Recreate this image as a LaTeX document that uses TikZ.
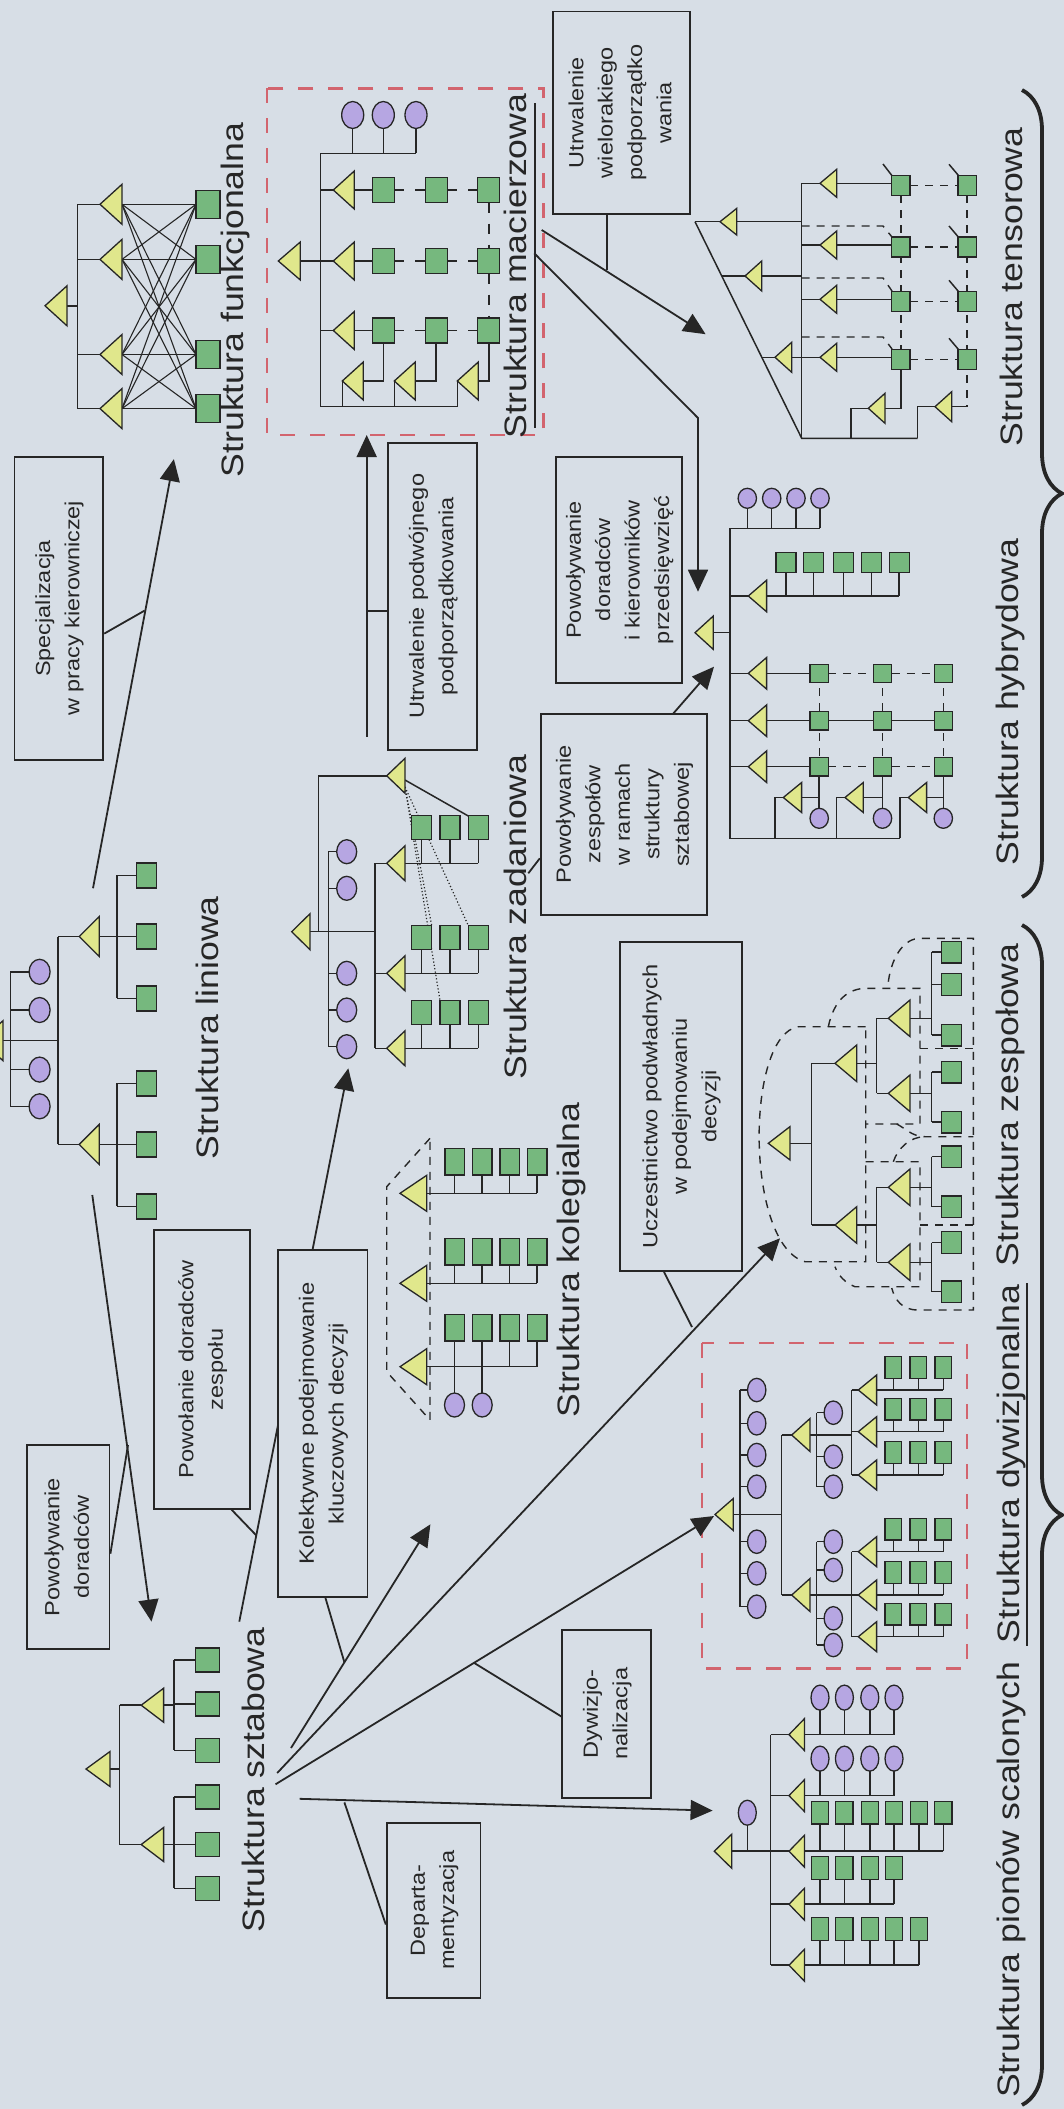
\documentclass[tikz,border=0pt]{standalone}
\usepackage{graphicx}
\usepackage{fontspec}
\setmainfont{Liberation Sans}[FakeStretch=1.15]
\usetikzlibrary{arrows.meta,decorations.pathreplacing,calc}
\definecolor{bg}{RGB}{215,222,230}
\definecolor{ink}{RGB}{38,38,38}
\definecolor{trifill}{RGB}{224,231,140}
\definecolor{sqfill}{RGB}{118,184,126}
\definecolor{ovfill}{RGB}{182,166,226}
\definecolor{redd}{RGB}{210,100,110}
\tikzset{
  ln/.style={draw=ink, line width=1.5pt},
  trist/.style={draw=ink, line width=1.3pt, fill=trifill, line join=miter},
  sqst/.style={draw=ink, line width=1.3pt, fill=sqfill},
  ovst/.style={draw=ink, line width=1.3pt, fill=ovfill},
  dsh/.style={draw=ink, line width=1.4pt, dash pattern=on 8pt off 7pt},
  mdsh/.style={draw=ink, line width=1.4pt, dash pattern=on 10pt off 11pt},
  dotl/.style={draw=ink, line width=1.2pt, dash pattern=on 1.2pt off 2.2pt},
  lbox/.style={draw=ink, line width=1.9pt, fill=bg, rotate=90, inner sep=0pt, text=ink},
  ttl/.style={rotate=90, inner sep=0pt, font=\fontsize{31}{35}\selectfont, text=ink},
  arr/.style={draw=ink, line width=1.8pt, -{Triangle[length=22pt,width=20pt]}},
  con/.style={draw=ink, line width=1.8pt},
  reddash/.style={draw=redd, line width=2.4pt, dash pattern=on 15pt off 15pt},
  brc/.style={draw=ink, line width=3.8pt, decorate, decoration={brace, amplitude=40pt}},
}
\newcommand\tri[4]{\draw[trist] (#1,#2) -- ++(#3,-#4) -- ++(0,{2*#4}) -- cycle;}
\newcommand\sq[4]{\draw[sqst] ({#1-#3/2},{#2-#4/2}) rectangle ++(#3,#4);}
\newcommand\ov[4]{\draw[ovst] (#1,#2) ellipse [x radius=#3, y radius=#4];}
\newcommand\bx[2]{\resizebox{#1pt}{!}{\fontsize{20.9}{30}\selectfont\begin{tabular}{@{}c@{}}#2\end{tabular}}}
\begin{document}
\begin{tikzpicture}[x=1pt,y=-1pt]
\path[use as bounding box, fill=bg] (0,0) rectangle (1064,2109);
\clip (0,0) rectangle (1064,2109);

% ================= FUNKCJONALNA
\draw[ln] (67,305.8) -- (77.5,305.8);
\draw[ln] (77.5,204.3) -- (77.5,408.6);
\foreach \qy in {204.3,259.4,354.5,408.6}{
  \draw[ln] (77.5,\qy) -- (100,\qy);
  \foreach \qz in {204.3,259.4,354.5,408.6}{\draw[ln, line width=1.1pt] (122,\qy) -- (196,\qz);}
}
\foreach \qy in {204.3,259.4,354.5,408.6}{\tri{100}{\qy}{22}{20} \sq{208}{\qy}{24}{28}}
\tri{45}{305.8}{22}{20}
\node[ttl] (tfunk) at (235,300) {Struktura funkcjonalna};

% ================= MACIERZOWA
\draw[reddash] (266.7,88.3) rectangle (543.3,435);
\draw[ln] (300,261) -- (320.7,261);
\draw[ln] (320.7,153.3) -- (320.7,406.7) -- (457.3,406.7);
\draw[ln] (320.7,153.3) -- (416,153.3);
\foreach \qx in {352.7,383.3,416}{\draw[ln] (\qx,128.5) -- (\qx,153.3); \ov{\qx}{115}{11}{13.5}}
\draw[mdsh] (488.8,202.5) -- (488.8,248.5);
\draw[mdsh] (488.8,273.5) -- (488.8,318);
\foreach \qy in {190,261,330.5}{
  \draw[ln] (320.7,\qy) -- (333.3,\qy);
  \draw[ln] (354.3,\qy) -- (372.3,\qy);
  \draw[mdsh] (394.3,\qy) -- (425.2,\qy);
  \draw[mdsh] (447.3,\qy) -- (477.8,\qy);
  \tri{333.3}{\qy}{21}{19}
  \foreach \qx in {383.3,436.2,488.8}{\sq{\qx}{\qy}{22}{25}}
}
\foreach \qa/\qc in {342.3/383.3,394.3/436.2,457.3/488.8}{
  \draw[ln] (\qa,406.7) -- (\qa,381);
  \draw[ln] ({\qa+21},381) -- (\qc,381) -- (\qc,343);
  \tri{\qa}{381}{21}{19}
}
\tri{278.3}{261}{22}{19}
\node[ttl] (tmac) at (515,266) {Struktura macierzowa};
\draw[ln] (535,103) -- (535,428);

% ================= LINIOWA
\draw[ln] (3,1040.7) -- (57.9,1040.7);
\draw[ln] (10.3,971.8) -- (10.3,1106.3);
\foreach \qy in {971.8,1010,1069.6,1106.3}{\draw[ln] (10.3,\qy) -- (29.1,\qy); \ov{39.6}{\qy}{10.5}{12.5}}
\tri{-19}{1040.7}{22}{20}
\draw[ln] (57.9,936.5) -- (57.9,1144.4);
\draw[ln] (117.1,875.4) -- (117.1,998.4);
\draw[ln] (117.1,1083.4) -- (117.1,1206.4);
\foreach \qy in {936.5,1144.4}{\draw[ln] (57.9,\qy) -- (79.2,\qy); \draw[ln] (99.2,\qy) -- (117.1,\qy); \tri{79.2}{\qy}{20}{20}}
\foreach \qy in {875.4,936.5,998.4,1083.4,1144.4,1206.4}{\draw[ln] (117.1,\qy) -- (136.7,\qy); \sq{146.7}{\qy}{20}{25}}
\node[ttl] (tlin) at (207.5,1028) {Struktura liniowa};

% ================= SZTABOWA
\draw[ln] (110,1769) -- (119.5,1769);
\draw[ln] (119.5,1705.2) -- (119.5,1844.5);
\draw[ln] (174,1660) -- (174,1750.4);
\draw[ln] (174,1797) -- (174,1888.3);
\foreach \qy in {1705.2,1844.5}{\draw[ln] (119.5,\qy) -- (141.2,\qy); \draw[ln] (163.6,\qy) -- (174,\qy); \tri{141.2}{\qy}{22.4}{17}}
\foreach \qy in {1660,1703.9,1750.4,1797,1844.5,1888.3}{\draw[ln] (174,\qy) -- (195.5,\qy); \sq{207.5}{\qy}{24}{24}}
\tri{86}{1769}{24}{17.5}
\node[ttl] (tszt) at (253,1780) {Struktura sztabowa};

% ================= ZADANIOWA
\draw[ln] (310,931.7) -- (375,931.7);
\draw[ln] (318.3,931.7) -- (318.3,775.8) -- (386.7,775.8);
\draw[ln] (328.3,851.7) -- (328.3,1046.7);
\foreach \qy in {851.7,888.3,973.3,1010,1046.7}{\draw[ln] (328.3,\qy) -- (336.7,\qy); \ov{346.7}{\qy}{10}{12}}
\draw[ln] (375,863.3) -- (375,1048.3);
\draw[ln] (405,780) -- (468.3,816);
\draw[dotl] (405,787) -- (440,1000.5);
\draw[dotl] (405,787) -- (431.7,925.5);
\draw[dotl] (405,787) -- (468.3,925.5);
\foreach \qy in {863.3,973.3,1048.3}{
  \draw[ln] (375,\qy) -- (386.7,\qy);
  \draw[ln] (405,\qy) -- (478.3,\qy);
  \foreach \qx in {421.7,450,478.3}{\draw[ln] (\qx,\qy) -- (\qx,{\qy-23.5}); \sq{\qx}{\qy-35.5}{20}{24}}
  \tri{386.7}{\qy}{18.3}{17.5}
}
\tri{386.7}{775.8}{18.3}{17.5}
\tri{291.7}{931.7}{18.3}{18}
\node[ttl] (tzad) at (515,917) {Struktura zadaniowa};

% ================= KOLEGIALNA
\draw[dsh] (430,1138.3) -- (386.7,1186.7) -- (386.7,1371.7) -- (430,1420) -- cycle;
\foreach \qy/\qr in {1193.3/1161.7,1283.3/1251.7,1366.7/1327.7}{
  \draw[ln] (426.7,\qy) -- (537.2,\qy);
  \foreach \qx in {454.5,482.2,509.7,537.2}{\draw[ln] (\qx,\qy) -- (\qx,\qr); \sq{\qx}{\qr}{19.3}{26.7}}
  \tri{400}{\qy}{26.7}{18}
}
\foreach \qx in {454.5,482.2}{\draw[ln] (\qx,1366.7) -- (\qx,1393); \ov{\qx}{1405}{10}{12}}
\node[ttl] (tkol) at (571,1260) {Struktura kolegialna};

% ================= HYBRYDOWA
\draw[ln] (713.3,632.7) -- (730,632.7);
\draw[ln] (730,528.3) -- (730,838.3) -- (900,838.3);
\draw[ln] (730,528.3) -- (820,528.3);
\foreach \qx in {747.3,771.7,796,820}{\draw[ln] (\qx,508.3) -- (\qx,528.3); \ov{\qx}{498.3}{9.2}{10}}
\draw[ln] (730,596) -- (748.3,596);
\draw[ln] (766.7,596) -- (899.2,596);
\foreach \qx in {786,813.3,843.3,871.7,899.2}{\draw[ln] (\qx,596) -- (\qx,572.7); \sq{\qx}{562.7}{20}{20}}
\tri{748.3}{596}{18.3}{15.8}
\foreach \qy in {673.3,720.7,766.7}{
  \draw[ln] (730,\qy) -- (748.3,\qy);
  \draw[ln] (766.7,\qy) -- (810,\qy);
  \tri{748.3}{\qy}{18.3}{15.8}
}
\draw[dsh] (828.3,673.3) -- (873.3,673.3);
\draw[dsh] (891.7,673.3) -- (934.2,673.3);
\draw[ln] (828.3,720.7) -- (934.2,720.7);
\draw[dsh] (828.3,766.7) -- (873.3,766.7);
\draw[dsh] (891.7,766.7) -- (934.2,766.7);
\foreach \qx in {819.2,882.5,943.3}{
  \draw[dsh] (\qx,673.3) -- (\qx,766.7);
  \draw[ln] (\qx,766.7) -- (\qx,808.3);
  \foreach \qy in {673.3,720.7,766.7}{\sq{\qx}{\qy}{18.3}{18.3}}
  \ov{\qx}{818.3}{9.2}{10}
}
\foreach \qa/\qc in {783.3/819.2,845/882.5,908.3/943.3}{
  \draw[ln] ({\qa-8.3},838.3) -- ({\qa-8.3},797.5) -- (\qa,797.5);
  \draw[ln] ({\qa+18.3},797.5) -- (\qc,797.5);
  \tri{\qa}{797.5}{18.3}{15}
}
\tri{695}{632.7}{18.3}{16.7}
\node[ttl] (thyb) at (1010,702) {Struktura hybrydowa};

% ================= TENSOROWA
\draw[ln] (695,221.7) -- (801.7,438.3) -- (917.7,438.3);
\draw[ln] (801.7,183.3) -- (801.7,438.3);
\draw[ln] (695,221.7) -- (720,221.7);
\draw[ln] (736.7,221.7) -- (801.7,221.7);
\draw[dsh] (801.7,226) -- (883,226) -- (892,237);
\draw[ln] (721.7,276) -- (745,276);
\draw[ln] (761.7,276) -- (801.7,276);
\draw[dsh] (801.7,278) -- (883,278) -- (892,291);
\draw[dsh] (801.7,337) -- (883,337) -- (892,349);
\draw[ln] (761.8,357.3) -- (775,357.3);
\draw[ln] (791.7,357.3) -- (820,357.3);
\draw[dsh] (900.8,195) -- (900.8,349);
\draw[dsh] (967,195) -- (967,406.7);
\foreach \qy in {183.3,245,299.3,357.3}{
  \draw[ln] (801.7,\qy) -- (820,\qy);
  \draw[ln] (836.7,\qy) -- (891.7,\qy);
  \draw[dsh] (910,{\qy+2}) -- (958,{\qy+2});
  \draw[ln] (949,{\qy-19}) -- (960,{\qy-6});
}
\draw[ln] (883,164) -- (893,177);
\draw[ln] (851,438.3) -- (851,408.3) -- (868.3,408.3);
\draw[ln] (885,408.3) -- (900.8,408.3) -- (900.8,367);
\draw[ln] (917.7,438.3) -- (917.7,406.7) -- (935,406.7);
\draw[ln] (951.7,406.7) -- (967,406.7);
\foreach \qy in {183.3,245,299.3,357.3}{\tri{820}{\qy}{16.7}{14} \sq{900.8}{\qy+2}{18.3}{20} \sq{967}{\qy+2}{18.3}{20}}
\tri{720}{221.7}{16.7}{13.3}
\tri{745}{276}{16.7}{15}
\tri{775}{357.3}{16.7}{15}
\tri{868.3}{408.3}{16.7}{15}
\tri{935}{406.7}{16.7}{15}
\node[ttl] (tten) at (1011,287) {Struktura tensorowa};

% ================= ZESPOLOWA
\draw[dsh] (865.7,1026.7) -- (798.3,1026.7) .. controls (745,1035) and (745,1245) .. (805,1261.7) -- (865.7,1261.7) -- cycle;
\draw[dsh] (828.3,1026.7) .. controls (834,1000) and (848,988.3) .. (866.7,988.3) -- (920,988.3) -- (920,1124) -- (865.7,1124);
\draw[dsh] (888.3,981.7) .. controls (892,955) and (905,938.3) .. (920,938.3) -- (973.3,938.3) -- (973.3,1310) -- (918,1310) .. controls (902,1310) and (895,1300) .. (891.7,1288);
\draw[dsh] (920,1048.3) -- (973.3,1048.3);
\draw[dsh] (896.7,1124) .. controls (905,1128) and (912,1136.7) .. (925,1136.7) -- (973.3,1136.7);
\draw[dsh] (893.3,1161.7) .. controls (898,1148) and (910,1136.7) .. (925,1136.7);
\draw[dsh] (865.7,1161.7) -- (920,1161.7) -- (920,1286.7) -- (855,1286.7) .. controls (845,1283) and (838,1275) .. (835,1266.7);
\draw[dsh] (920,1225) -- (973.3,1225);
\draw[ln] (790,1143.3) -- (811.7,1143.3);
\draw[ln] (811.7,1063.3) -- (811.7,1225);
\foreach \qy in {1063.3,1225}{\draw[ln] (811.7,\qy) -- (835,\qy); \draw[ln] (856.7,\qy) -- (876.7,\qy);}
\draw[ln] (876.7,1018.3) -- (876.7,1093.3);
\draw[ln] (876.7,1187.3) -- (876.7,1262.3);
\foreach \qy in {1018.3,1093.3,1187.3,1262.3}{\draw[ln] (876.7,\qy) -- (888.3,\qy); \draw[ln] (910,\qy) -- (931.7,\qy);}
\draw[ln] (931.7,952) -- (931.7,1035);
\draw[ln] (931.7,1072) -- (931.7,1122);
\draw[ln] (931.7,1156.7) -- (931.7,1206.7);
\draw[ln] (931.7,1242.5) -- (931.7,1291.7);
\foreach \qy in {952,984.5,1035,1072,1122,1156.7,1206.7,1242.5,1291.7}{\draw[ln] (931.7,\qy) -- (941.7,\qy); \sq{951.7}{\qy}{20}{21.7}}
\foreach \qy in {1018.3,1093.3,1187.3,1262.3}{\tri{888.3}{\qy}{21.7}{18.3}}
\foreach \qy in {1063.3,1225}{\tri{835}{\qy}{21.7}{18.3}}
\tri{768.3}{1143.3}{21.7}{16.7}
\node[ttl] (tzes) at (1010,1105) {Struktura zespołowa};

% ================= DYWIZJONALNA
\draw[reddash] (701.7,1342.7) rectangle (967,1668.3);
\draw[ln] (733.3,1514.5) -- (781.7,1514.5);
\draw[ln] (740,1390) -- (740,1606.7);
\foreach \qy in {1390,1423.3,1455,1486.7,1541.7,1573.3,1606.7}{\draw[ln] (740,\qy) -- (747.5,\qy); \ov{756.7}{\qy}{9.2}{11.7}}
\draw[ln] (781.7,1435) -- (781.7,1595);
\foreach \qy in {1435,1595}{\draw[ln] (781.7,\qy) -- (791.7,\qy); \draw[ln] (810,\qy) -- (851.7,\qy);}
\draw[ln] (816.7,1412.7) -- (816.7,1486.7);
\foreach \qy in {1412.7,1456.7,1486.7}{\draw[ln] (816.7,\qy) -- (824,\qy); \ov{833.3}{\qy}{9.2}{11.7}}
\draw[ln] (816.7,1541.7) -- (816.7,1645);
\foreach \qy in {1541.7,1570,1618.3,1645}{\draw[ln] (816.7,\qy) -- (824,\qy); \ov{833.3}{\qy}{9.2}{11.7}}
\foreach \qy in {1435,1595}{\tri{791.7}{\qy}{18.3}{16.5}}
\draw[ln] (851.7,1390) -- (851.7,1475);
\draw[ln] (851.7,1551.7) -- (851.7,1636.7);
\foreach \qy in {1390,1431.7,1475,1551.7,1595,1636.7}{
  \draw[ln] (851.7,\qy) -- (858.3,\qy);
  \draw[ln] (876.7,\qy) -- (943.3,\qy);
  \foreach \qx in {893.3,918.3,943.3}{\draw[ln] (\qx,\qy) -- (\qx,{\qy-11.7}); \sq{\qx}{\qy-22.5}{16.7}{21.7}}
  \tri{858.3}{\qy}{18.3}{15}
}
\tri{715}{1514.5}{18.3}{16}
\node[ttl] (tdyw) at (1011,1464) {Struktura dywizjonalna};
\draw[ln] (1027,1283) -- (1027,1646);

% ================= PIONOW SCALONYCH
\draw[ln] (731.7,1851.2) -- (789,1851.2);
\draw[ln] (747.3,1825) -- (747.3,1851.2);
\ov{747.3}{1812.7}{9}{12.5}
\draw[ln] (770.5,1734.6) -- (770.5,1965.2);
\foreach \qy in {1734.6,1795.6,1904.2,1965.2}{\draw[ln] (770.5,\qy) -- (789,\qy);}
\draw[ln] (804.5,1734.6) -- (894,1734.6);
\foreach \qx in {820,844.4,869.8,894}{\draw[ln] (\qx,1734.6) -- (\qx,1710); \ov{\qx}{1697.6}{9}{12.5}}
\draw[ln] (804.5,1795.6) -- (894,1795.6);
\foreach \qx in {820,844.4,869.8,894}{\draw[ln] (\qx,1795.6) -- (\qx,1771); \ov{\qx}{1758.6}{9}{12.5}}
\draw[ln] (804.5,1851.2) -- (943.3,1851.2);
\foreach \qx in {820,844.4,869.8,894,919,943.3}{\draw[ln] (\qx,1851.2) -- (\qx,1824); \sq{\qx}{1812.7}{17.3}{22.6}}
\draw[ln] (804.5,1904.2) -- (894,1904.2);
\foreach \qx in {820,844.4,869.8,894}{\draw[ln] (\qx,1904.2) -- (\qx,1879); \sq{\qx}{1868}{17.3}{22.6}}
\draw[ln] (804.5,1965.2) -- (919,1965.2);
\foreach \qx in {820,844.4,869.8,894,919}{\draw[ln] (\qx,1965.2) -- (\qx,1940); \sq{\qx}{1929}{17.3}{22.6}}
\foreach \qy in {1734.6,1795.6,1851.2,1904.2,1965.2}{\tri{789}{\qy}{15.5}{16}}
\tri{714.3}{1851.2}{17.4}{17}
\node[ttl] (tpio) at (1011,1880) {Struktura pionów scalonych};

% ================= BRACES
\draw[brc] (1022,90) -- (1022,897);
\draw[brc] (1022,925) -- (1022,2105);

% ================= ARROWS
\draw[arr] (92.3,1195) -- (151.5,1621.6);
\draw[arr] (93,888.2) -- (173.9,459.1);
\draw[arr] (366.7,736.7) -- (366.7,435);
\draw[arr] (239.3,1621.6) -- (348.3,1068.3);
\draw[arr] (291,1748) -- (430.4,1524.3);
\draw[arr] (277.2,1773) -- (780,1238.3);
\draw[arr] (275.5,1784.3) -- (714,1516);
\draw[arr] (299.6,1798.8) -- (712.6,1810.6);
\draw[arr] (541.7,230) -- (705.6,334.2);
\draw[arr] (534.3,253.3) -- (698,418) -- (698,591.7);
\draw[arr] (673.3,713.5) -- (714,666.7);

% ================= BOXES
\node[lbox, minimum width=302.7pt, minimum height=88.8pt] (bspec) at (58.9,608.4) {\bx{215}{Specjalizacja\\w pracy kierowniczej}};
\node[lbox, minimum width=306.6pt, minimum height=88.6pt] (bpod) at (432.7,596.3) {\bx{245}{Utrwalenie podwójnego\\podporządkowania}};
\node[lbox, minimum width=202.5pt, minimum height=137pt] (bwie) at (621.5,112.8) {\bx{136}{Utrwalenie\\wielorakiego\\podporządko\\wania}};
\node[lbox, minimum width=226.5pt, minimum height=125.3pt] (bdki) at (619,570) {\bx{148}{Powoływanie\\doradców\\i kierowników\\przedsięwzięć}};
\node[lbox, minimum width=201.5pt, minimum height=166.2pt] (bzes) at (623.9,814.3) {\bx{138}{Powoływanie\\zespołów\\w ramach\\struktury\\sztabowej}};
\node[lbox, minimum width=329pt, minimum height=122pt] (bucz) at (681,1106.5) {\bx{284}{Uczestnictwo podwładnych\\w podejmowaniu\\decyzji}};
\node[lbox, minimum width=204pt, minimum height=82.5pt] (bdor) at (68.2,1547) {\bx{138}{Powoływanie\\doradców}};
\node[lbox, minimum width=278.5pt, minimum height=96.3pt] (bzsp) at (202.2,1369.3) {\bx{218}{Powołanie doradców\\zespołu}};
\node[lbox, minimum width=346.7pt, minimum height=89.2pt] (bkol) at (322.9,1423.4) {\bx{282}{Kolektywne podejmowanie\\kluczowych decyzji}};
\node[lbox, minimum width=175pt, minimum height=93.7pt] (bdep) at (433.6,1910.3) {\bx{119}{Departa-\\mentyzacja}};
\node[lbox, minimum width=168.2pt, minimum height=88.9pt] (bdyw) at (606.8,1713.8) {\bx{92}{Dywizjo-\\nalizacja}};

% ================= CONNECTORS
\draw[con] (bspec.south |- 0,633.6) -- (144.6,610.6);
\draw[con] (bpod.north |- 0,610.6) -- (366.7,610.6);
\draw[con] (bwie.west -| 607,0) -- (607,270);
\draw[con] (528.3,873.3) -- (bzes.north |- 0,858.3);
\draw[con] (bucz.west -| 664,0) -- (692,1327);
\draw[con] (bdor.south |- 0,1553.7) -- (128,1445);
\draw[con] (bzsp.west -| 231.4,0) -- (256.5,1535.6);
\draw[con] (bkol.west -| 325.4,0) -- (344.4,1662.3);
\draw[con] (bdep.north |- 0,1924.5) -- (344.4,1802.4);
\draw[con] (bdyw.north |- 0,1716.5) -- (473.5,1662.5);
\end{tikzpicture}
\end{document}
